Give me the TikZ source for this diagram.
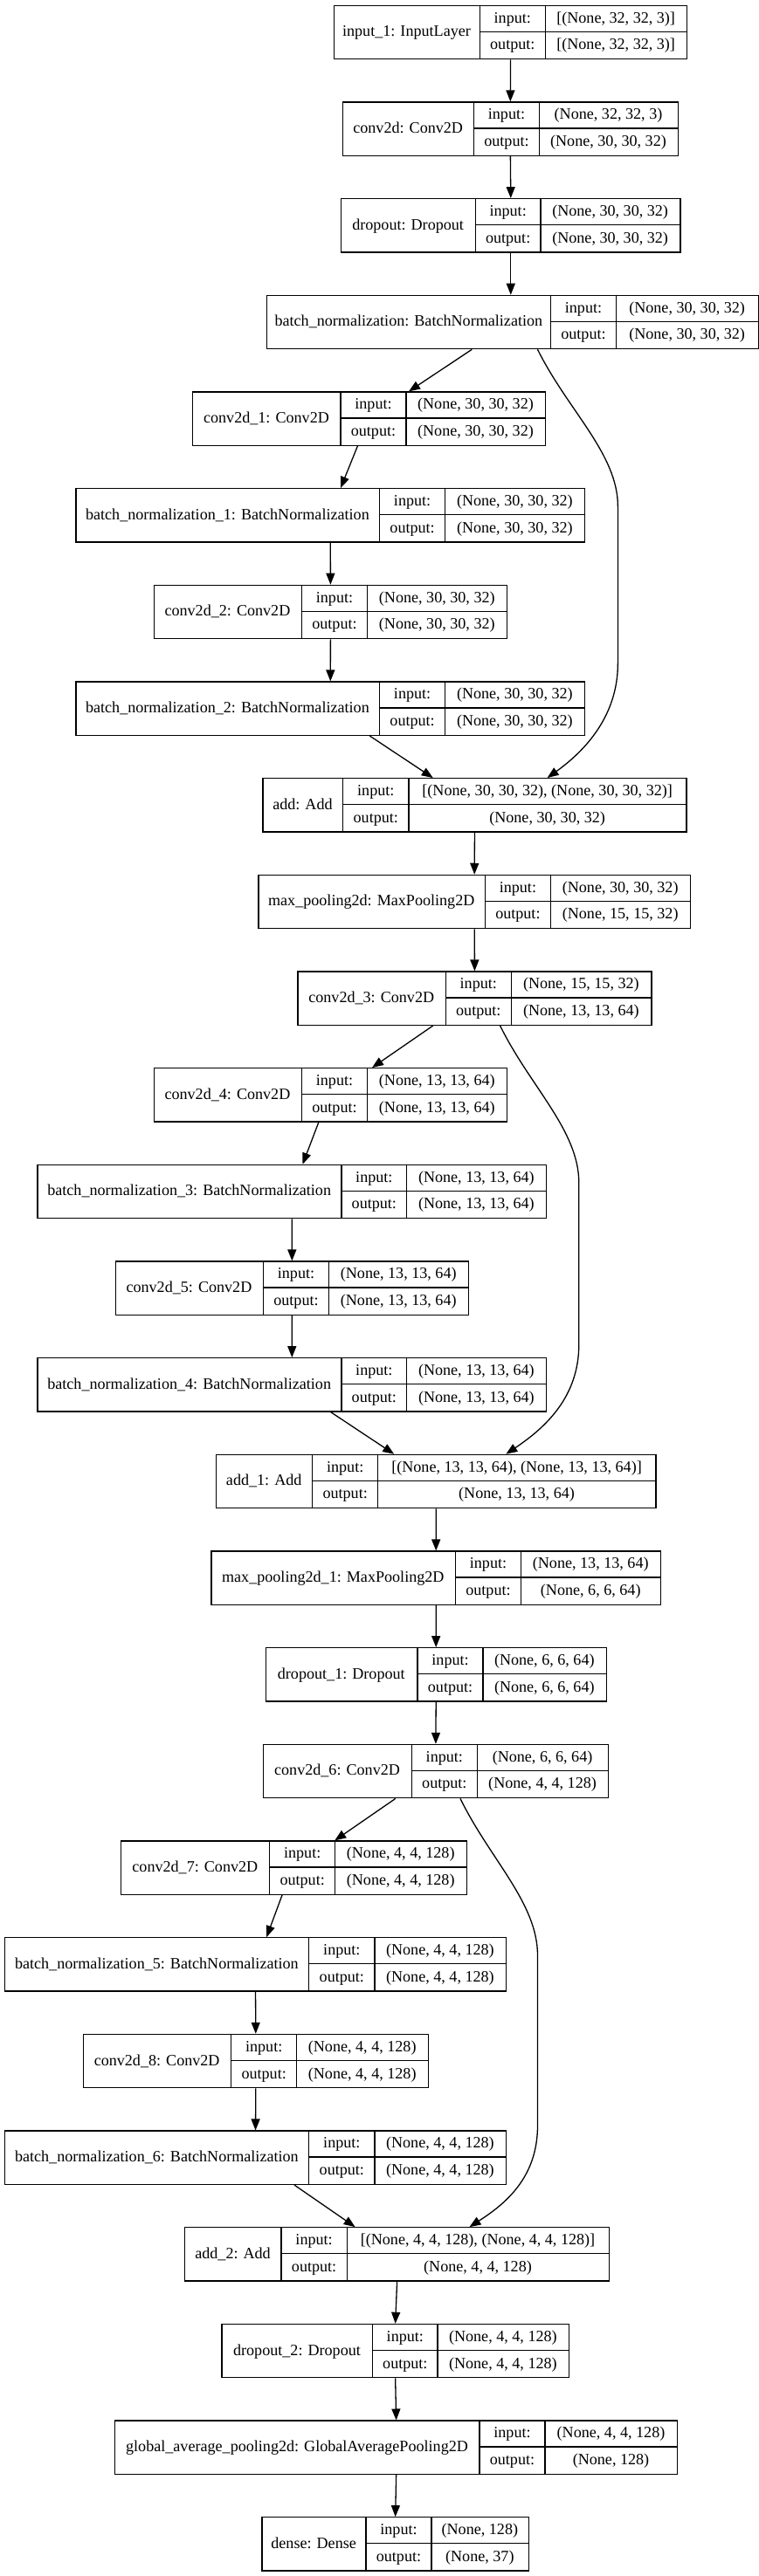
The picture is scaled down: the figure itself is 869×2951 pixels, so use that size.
\documentclass[tikz,border=0pt]{standalone}
\usepackage{fontspec}
\setmainfont{Liberation Serif}
\usetikzlibrary{arrows.meta}

% one keras layer: name, row, left, right, first and second divider, label, input, output
\newcommand{\layer}[9]{%
  \pgfmathsetmacro{\ytop}{5.7+110.67*#2}%
  \pgfmathsetmacro{\wbox}{#4-#3}%
  \node[layerbox, minimum width=\wbox pt, anchor=north west] (#1) at (#3,\ytop) {};
  \draw[rule] (#5,\ytop) -- ++(0,61.3) (#6,\ytop) -- ++(0,61.3)
              (#5,\ytop+30.65) -- (#4,\ytop+30.65);
  \node[cell] (#1-l) at ({(#3+#5)/2},\ytop+36.2) {#7};
  \node[cell] (#1-ki) at ({(#5+#6)/2},\ytop+20.5) {input:};
  \node[cell] (#1-ko) at ({(#5+#6)/2},\ytop+51.2) {output:};
  \node[cell] (#1-vi) at ({(#6+#4)/2},\ytop+20.5) {#8};
  \node[cell] (#1-vo) at ({(#6+#4)/2},\ytop+51.2) {#9};
}

\begin{document}
\begin{tikzpicture}[x=1pt, y=-1pt, font=\fontsize{18.1pt}{21pt}\selectfont,
    layerbox/.style={draw, line width=1.3pt, inner sep=0pt, minimum height=61.3pt},
    rule/.style={line width=1.3pt},
    cell/.style={anchor=base, inner sep=0pt},
    link/.style={-{Triangle[length=13pt,width=10pt]}, line width=1.3pt}]
    \useasboundingbox (0,0) rectangle (869,2951);

    \layer{inp}{0}{381.7}{786}{549.3}{624.3}{input\_1: InputLayer}{[(None, 32, 32, 3)]}{[(None, 32, 32, 3)]}
    \layer{cv}{1}{391.7}{775.7}{542.7}{617.3}{conv2d: Conv2D}{(None, 32, 32, 3)}{(None, 30, 30, 32)}
    \layer{dp}{2}{390}{778.3}{544.3}{619}{dropout: Dropout}{(None, 30, 30, 32)}{(None, 30, 30, 32)}
    \layer{bn}{3}{305}{868}{630.7}{705.3}{batch\_normalization: BatchNormalization}{(None, 30, 30, 32)}{(None, 30, 30, 32)}
    \layer{cva}{4}{220}{624}{390}{465}{conv2d\_1: Conv2D}{(None, 30, 30, 32)}{(None, 30, 30, 32)}
    \layer{bna}{5}{86.3}{669}{434.5}{509.7}{batch\_normalization\_1: BatchNormalization}{(None, 30, 30, 32)}{(None, 30, 30, 32)}
    \layer{cvb}{6}{175.5}{580}{345.4}{420.6}{conv2d\_2: Conv2D}{(None, 30, 30, 32)}{(None, 30, 30, 32)}
    \layer{bnb}{7}{86.3}{669}{434.5}{509.7}{batch\_normalization\_2: BatchNormalization}{(None, 30, 30, 32)}{(None, 30, 30, 32)}
    \layer{add}{8}{300.2}{785.4}{392.7}{467.9}{add: Add}{[(None, 30, 30, 32), (None, 30, 30, 32)]}{(None, 30, 30, 32)}
    \layer{mp}{9}{295.2}{789.9}{555.3}{630.5}{max\_pooling2d: MaxPooling2D}{(None, 30, 30, 32)}{(None, 15, 15, 32)}
    \layer{cvc}{10}{340.3}{745.3}{510.2}{585.4}{conv2d\_3: Conv2D}{(None, 15, 15, 32)}{(None, 13, 13, 64)}
    \layer{cvd}{11}{175.5}{580}{345.4}{420.6}{conv2d\_4: Conv2D}{(None, 13, 13, 64)}{(None, 13, 13, 64)}
    \layer{bnc}{12}{42.3}{625}{391}{465.7}{batch\_normalization\_3: BatchNormalization}{(None, 13, 13, 64)}{(None, 13, 13, 64)}
    \layer{cve}{13}{131.5}{535.9}{301.4}{376.6}{conv2d\_5: Conv2D}{(None, 13, 13, 64)}{(None, 13, 13, 64)}
    \layer{bnd}{14}{42.3}{625}{391}{465.7}{batch\_normalization\_4: BatchNormalization}{(None, 13, 13, 64)}{(None, 13, 13, 64)}
    \layer{adda}{15}{246.8}{750.3}{357.6}{432.8}{add\_1: Add}{[(None, 13, 13, 64), (None, 13, 13, 64)]}{(None, 13, 13, 64)}
    \layer{mpa}{16}{241.2}{755.9}{521.4}{596.6}{max\_pooling2d\_1: MaxPooling2D}{(None, 13, 13, 64)}{(None, 6, 6, 64)}
    \layer{dpa}{17}{303.6}{693.5}{478}{553.1}{dropout\_1: Dropout}{(None, 6, 6, 64)}{(None, 6, 6, 64)}
    \layer{cvf}{18}{300.8}{695.7}{471.3}{546.4}{conv2d\_6: Conv2D}{(None, 6, 6, 64)}{(None, 4, 4, 128)}
    \layer{cvg}{19}{138.1}{533.6}{308.6}{383.8}{conv2d\_7: Conv2D}{(None, 4, 4, 128)}{(None, 4, 4, 128)}
    \layer{bne}{20}{5}{578.8}{353.7}{429}{batch\_normalization\_5: BatchNormalization}{(None, 4, 4, 128)}{(None, 4, 4, 128)}
    \layer{cvh}{21}{94.7}{489.6}{264.6}{339.8}{conv2d\_8: Conv2D}{(None, 4, 4, 128)}{(None, 4, 4, 128)}
    \layer{bnf}{22}{5}{578.8}{353.7}{429}{batch\_normalization\_6: BatchNormalization}{(None, 4, 4, 128)}{(None, 4, 4, 128)}
    \layer{addb}{23}{211.1}{696.8}{322}{397.2}{add\_2: Add}{[(None, 4, 4, 128), (None, 4, 4, 128)]}{(None, 4, 4, 128)}
    \layer{dpb}{24}{253.3}{650.7}{426.7}{501}{dropout\_2: Dropout}{(None, 4, 4, 128)}{(None, 4, 4, 128)}
    \layer{gap}{25}{131}{775}{549}{624}{global\_average\_pooling2d: GlobalAveragePooling2D}{(None, 4, 4, 128)}{(None, 128)}
    \layer{dense}{26}{299.3}{604.7}{419}{494}{dense: Dense}{(None, 128)}{(None, 37)}

    % straight links
    \draw[link] (inp.south) -- (cv.north);
    \draw[link] (cv.south) -- (dp.north);
    \draw[link] (dp.south) -- (dp.south |- bn.north);
    \draw[link] ([xshift=235.3]bn.south west) -- ([xshift=248]cva.north west);
    \draw[link] ([xshift=189.4]cva.south west) -- ([xshift=303.7]bna.north west);
    \draw[link] (bna.south) -- (cvb.north);
    \draw[link] (cvb.south) -- (bnb.north);
    \draw[link] ([xshift=337]bnb.south west) -- ([xshift=195.5]add.north west);
    \draw[link] (add.south) -- (mp.north);
    \draw[link] (mp.south) -- (cvc.north);
    \draw[link] ([xshift=155.4]cvc.south west) -- ([xshift=250.5]cvd.north west);
    \draw[link] ([xshift=189.3]cvd.south west) -- ([xshift=304.2]bnc.north west);
    \draw[link] (bnc.south) -- (cve.north);
    \draw[link] (cve.south) -- (bnd.north);
    \draw[link] ([xshift=336.5]bnd.south west) -- ([xshift=204.4]adda.north west);
    \draw[link] (adda.south) -- (mpa.north);
    \draw[link] (mpa.south) -- (dpa.north);
    \draw[link] (dpa.south) -- (cvf.north);
    \draw[link] ([xshift=152]cvf.south west) -- ([xshift=245.1]cvg.north west);
    \draw[link] ([xshift=184.9]cvg.south west) -- ([xshift=300.2]bne.north west);
    \draw[link] (bne.south) -- (cvh.north);
    \draw[link] (cvh.south) -- (bnf.north);
    \draw[link] ([xshift=332]bnf.south west) -- ([xshift=195.5]addb.north west);
    \draw[link] (addb.south) -- (dpb.north);
    \draw[link] (dpb.south) -- (gap.north);
    \draw[link] (gap.south) -- (dense.north);

    % skip links
    \draw[link] ([xshift=310.5]bn.south west) .. controls (650,470) and (707.4,520) .. (707.4,580)
        -- (707.4,760) .. controls (707.4,820) and (670,860) .. ([xshift=326.4]add.north west);
    \draw[link] ([xshift=232.3]cvc.south west) .. controls (607,1245) and (662.8,1295) .. (662.8,1355)
        -- (662.8,1540) .. controls (662.8,1600) and (625,1635) .. ([xshift=332.5]adda.north west);
    \draw[link] ([xshift=226.2]cvf.south west) .. controls (561,2130) and (615.5,2180) .. (615.5,2240)
        -- (615.5,2435) .. controls (615.5,2495) and (578,2525) .. ([xshift=326.4]addb.north west);
\end{tikzpicture}
\end{document}
